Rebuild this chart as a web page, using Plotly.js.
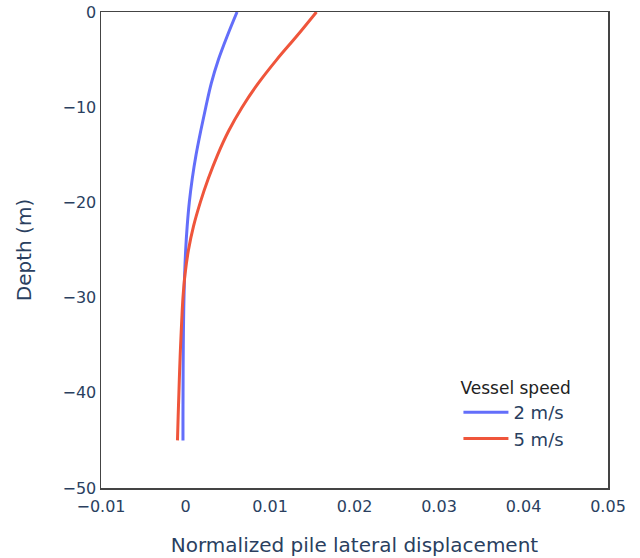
<!DOCTYPE html>
<html>
<head>
<meta charset="utf-8">
<script src="https://cdn.plot.ly/plotly-3.0.1.min.js"></script>
<style>html,body{margin:0;padding:0;background:#fff;}</style>
</head>
<body>
<div id="chart" style="width:640px;height:558px;"></div>
<script>
const depth = [0, -2.5, -5, -7.5, -10, -12.5, -15, -17.5, -20, -22.5, -25, -27.5, -30, -32.5, -35, -37.5, -40, -42.5, -45];
const disp2 = [0.0061, 0.00495, 0.0039, 0.00305, 0.0024, 0.0018, 0.00125, 0.0008, 0.00045, 0.0002, 0.00002, -0.0001, -0.00018, -0.00023, -0.00026, -0.00028, -0.00029, -0.0003, -0.0003];
const disp5 = [0.0155, 0.0132, 0.0108, 0.0086, 0.0067, 0.0051, 0.0038, 0.0027, 0.00175, 0.00095, 0.00035, -0.00005, -0.0003, -0.00045, -0.00058, -0.00069, -0.00078, -0.00087, -0.00095];
const seriesNames = ['2 m/s', '5 m/s'];
const legendTitle = 'Vessel speed';

const traces = [
  {x: disp2, y: depth, mode: 'lines', name: seriesNames[0], line: {color: '#636efa', width: 3, shape: 'spline', smoothing: 1}},
  {x: disp5, y: depth, mode: 'lines', name: seriesNames[1], line: {color: '#EF553B', width: 3, shape: 'spline', smoothing: 1}}
];
const layout = {
  width: 640, height: 558,
  margin: {l: 101, r: 32, t: 12, b: 70},
  paper_bgcolor: '#fff', plot_bgcolor: '#fff',
  font: {family: 'DejaVu Sans, Verdana, sans-serif', size: 16, color: '#2a3f5f'},
  xaxis: {
    range: [-0.01, 0.05], dtick: 0.01, tick0: 0,
    showgrid: false, zeroline: false,
    showline: true, linecolor: '#444', linewidth: 1.5, mirror: true,
    ticks: '', tickfont: {size: 16}, ticklabelstandoff: 3,
    title: {text: 'Normalized pile lateral displacement', font: {size: 20}, standoff: 23}
  },
  yaxis: {
    range: [-50, 0], dtick: 10,
    showgrid: false, zeroline: false,
    showline: true, linecolor: '#444', linewidth: 1.5, mirror: true,
    ticks: '', tickfont: {size: 16},
    title: {text: 'Depth (m)', font: {size: 20}, standoff: 25}
  },
  legend: {
    x: 0.705, y: 0.244, xanchor: 'left', yanchor: 'top',
    bgcolor: 'rgba(255,255,255,0)',
    itemwidth: 45,
    title: {text: legendTitle, font: {color: '#222', size: 17}},
    font: {size: 18}
  },
  showlegend: true
};
Plotly.newPlot('chart', traces, layout, {displayModeBar: false, staticPlot: true});
</script>
</body>
</html>
